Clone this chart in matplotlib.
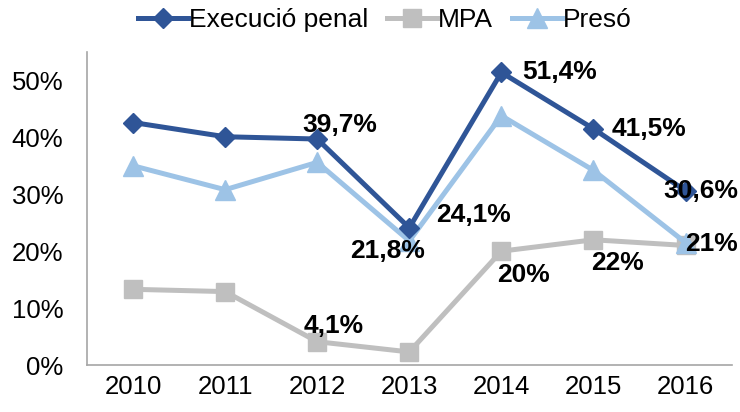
import matplotlib.pyplot as plt
from matplotlib.ticker import FuncFormatter

plt.rcParams['font.family'] = ['Liberation Sans', 'DejaVu Sans']

# data
years = ['2010', '2011', '2012', '2013', '2014', '2015', '2016']
execucio = [42.6, 40.1, 39.7, 24.1, 51.4, 41.5, 30.6]
mpa = [13.3, 12.9, 4.1, 2.3, 20.0, 22.0, 21.0]
preso = [35.0, 30.8, 35.6, 21.8, 43.8, 34.2, 21.5]

# data labels shown in the reference
labels_exec = {2: '39,7%', 3: '24,1%', 4: '51,4%', 5: '41,5%', 6: '30,6%'}
labels_mpa = {2: '4,1%', 4: '20%', 5: '22%', 6: '21%'}
labels_preso = {3: '21,8%'}

c_exec = '#2F5597'
c_mpa = '#BFBFBF'
c_preso = '#9DC3E6'

fig = plt.figure(figsize=(7.4, 4.12), dpi=100)
ax = fig.add_axes([0.1176, 0.114, 0.871, 0.76])

x = range(len(years))
ax.plot(x, mpa, color=c_mpa, lw=3.6, marker='s', ms=13, label='MPA')
ax.plot(x, preso, color=c_preso, lw=3.6, marker='^', ms=14, label='Presó')
ax.plot(x, execucio, color=c_exec, lw=3.6, marker='D', ms=10, label='Execució penal')

lab_kw = dict(fontsize=19, fontweight='bold', color='black', va='center')

# label offsets in points (dx, dy, ha)
off_exec = {2: (-11, 10, 'left'), 3: (19, 9, 'left'), 4: (15, 0, 'left'),
            5: (13, 0, 'left'), 6: (11, 0, 'center')}
for i, t in labels_exec.items():
    dx, dy, ha = off_exec[i]
    ax.annotate(t, (i, execucio[i]), xytext=(dx, dy), textcoords='offset points',
                ha=ha, **lab_kw)
off_mpa = {2: (-10, 11, 'left'), 4: (-3, -17, 'left'), 5: (-2, -17, 'left'),
           6: (0, 1, 'left')}
for i, t in labels_mpa.items():
    dx, dy, ha = off_mpa[i]
    ax.annotate(t, (i, mpa[i]), xytext=(dx, dy), textcoords='offset points',
                ha=ha, **lab_kw)
for i, t in labels_preso.items():
    ax.annotate(t, (i, preso[i]), xytext=(-16, -7), textcoords='offset points',
                ha='center', **lab_kw)

ax.set_xlim(-0.5, 6.5)
ax.set_ylim(0, 55)
ax.set_xticks(list(x))
ax.set_xticklabels(years)
ax.set_yticks([0, 10, 20, 30, 40, 50])
ax.yaxis.set_major_formatter(FuncFormatter(lambda v, p: f'{v:.0f}%'))
ax.tick_params(axis='both', length=0, labelsize=18.5)
ax.tick_params(axis='x', pad=7)
ax.tick_params(axis='y', pad=17)

for s in ['top', 'right']:
    ax.spines[s].set_visible(False)
for s in ['left', 'bottom']:
    ax.spines[s].set_color('#A6A6A6')
    ax.spines[s].set_linewidth(1.2)

handles, labs = ax.get_legend_handles_labels()
order = [2, 0, 1]
fig.legend([handles[i] for i in order], [labs[i] for i in order],
           loc='center', bbox_to_anchor=(0.52, 0.951), ncol=3, frameon=False,
           fontsize=19, handlelength=1.9, handletextpad=0.05, columnspacing=0.7)

fig.savefig('out.png', dpi=100)
